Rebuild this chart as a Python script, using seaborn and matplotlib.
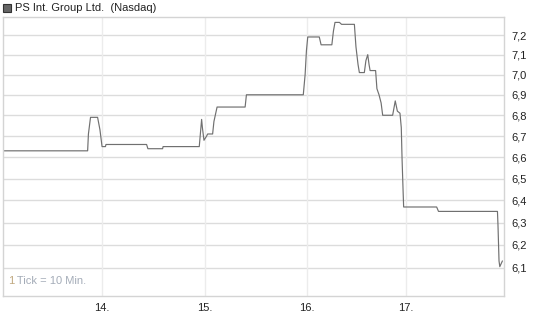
import matplotlib
matplotlib.use("Agg")
import matplotlib.pyplot as plt
import matplotlib.ticker as mticker
from matplotlib.patches import Rectangle
import seaborn as sns
import pandas as pd

# ---- data (10-minute ticks) ----
tick_idx = [0, 32.3, 32.6, 33.4, 36.1, 37.0, 37.8, 39.1, 39.3, 54.8, 55.3, 60.9, 61.1,
            74.9, 75.8, 76.1, 76.7, 77.7, 78.1, 80.0, 80.5, 81.7, 92.4, 92.9, 114.6,
            115.3, 115.8, 116.3, 120.7, 121.4, 125.5, 126.1, 126.7, 128.4, 129.2, 134.1,
            134.7, 135.5, 136.0, 137.9, 138.5, 139.2, 139.7, 140.1, 142.2, 142.7, 143.5,
            144.3, 144.9, 148.7, 149.7, 150.5, 151.5, 152.0, 152.3, 152.7, 152.9, 165.5,
            166.2, 188.7, 188.9, 189.3, 189.6, 190.6]
price = [6.63, 6.63, 6.71, 6.79, 6.79, 6.73, 6.65, 6.65, 6.66, 6.66, 6.64, 6.64, 6.65,
         6.65, 6.78, 6.74, 6.68, 6.70, 6.71, 6.71, 6.77, 6.84, 6.84, 6.90, 6.90,
         7.00, 7.12, 7.19, 7.19, 7.15, 7.15, 7.22, 7.265, 7.265, 7.255, 7.255,
         7.14, 7.05, 7.01, 7.01, 7.07, 7.10, 7.05, 7.02, 7.02, 6.93, 6.90,
         6.86, 6.80, 6.80, 6.87, 6.82, 6.81, 6.74, 6.59, 6.44, 6.37, 6.37,
         6.35, 6.35, 6.29, 6.13, 6.105, 6.13]
day_ticks = [37.8, 76.9, 116.0, 153.8]
day_labels = ["14.", "15.", "16.", "17."]
y_ticks = [6.1, 6.2, 6.3, 6.4, 6.5, 6.6, 6.7, 6.8, 6.9, 7.0, 7.1, 7.2]
y_labels = ["6,1", "6,2", "6,3", "6,4", "6,5", "6,6", "6,7", "6,8", "6,9", "7,0", "7,1", "7,2"]
title = "PS Int. Group Ltd.  (Nasdaq)"
note_num = "1"
note_rest = " Tick = 10 Min."

df = pd.DataFrame({"t": tick_idx, "p": price})

sns.set_theme(style="white")
plt.rcParams["font.family"] = ["Liberation Sans", "DejaVu Sans"]

W, H = 545, 327
fig = plt.figure(figsize=(W / 100, H / 100), dpi=100)
ax = fig.add_axes([3 / W, 1 - 295.7 / H, (504 - 3) / W, (295.7 - 17) / H])

sns.lineplot(data=df, x="t", y="p", ax=ax, sort=False, estimator=None,
             color="#707070", linewidth=0.85)

ax.set_yscale("log")
ax.set_ylim(5.98, 7.293)
ax.set_xlim(0, 191.2)
ax.yaxis.set_major_locator(mticker.FixedLocator(y_ticks))
ax.yaxis.set_major_formatter(mticker.FixedFormatter(y_labels))
ax.yaxis.set_minor_locator(mticker.NullLocator())
ax.xaxis.set_major_locator(mticker.FixedLocator(day_ticks))
ax.xaxis.set_major_formatter(mticker.FixedFormatter(day_labels))
ax.xaxis.set_minor_locator(mticker.NullLocator())
ax.yaxis.tick_right()
ax.set_xlabel("")
ax.set_ylabel("")
ax.tick_params(axis="both", length=0, labelsize=8, colors="#222222")
ax.tick_params(axis="y", pad=5)
ax.tick_params(axis="x", pad=5)

ax.grid(False)
for yv in y_ticks:
    ax.axhline(yv, color="#dcdcdc", lw=1.0, zorder=0)
for xv in day_ticks:
    ax.axvline(xv, color="#ececec", lw=1.0, zorder=0)
for s in ax.spines.values():
    s.set_color("#d4d4d4")
    s.set_linewidth(1.0)
    s.set_visible(True)

t1 = ax.text(0.01, 0.035, note_num, transform=ax.transAxes, fontsize=8, color="#c0a880",
             ha="left", va="bottom")
ax.annotate(note_rest, xy=(1, 0), xycoords=t1, fontsize=8, color="#a4acb8",
            ha="left", va="bottom")

fig.patches.append(Rectangle((3 / W, 1 - 12 / H), 8 / W, 8 / H, transform=fig.transFigure,
                             facecolor="#666666", edgecolor="#333333", lw=0.8))
fig.text(15 / W, 1 - 8 / H, title, fontsize=8, color="#222222", ha="left", va="center")

fig.savefig("out.png", dpi=100)
